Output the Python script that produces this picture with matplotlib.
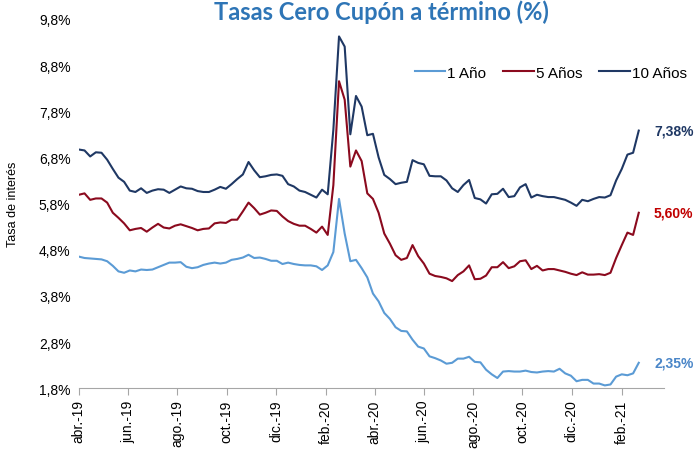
import matplotlib

matplotlib.use("Agg")
import matplotlib.dates as mdates
import matplotlib.pyplot as plt
import pandas as pd
from matplotlib.ticker import FuncFormatter

# weekly readings, abr.-19 .. feb.-21
dates = pd.date_range("2019-04-01", periods=100, freq="7D")

tasa_1 = [
    4.65, 4.62, 4.61, 4.60, 4.59, 4.55, 4.45, 4.33, 4.30, 4.35,
    4.33, 4.37, 4.36, 4.37, 4.42, 4.47, 4.52, 4.52, 4.53, 4.43,
    4.40, 4.42, 4.47, 4.50, 4.52, 4.50, 4.52, 4.58, 4.60, 4.63,
    4.69, 4.62, 4.63, 4.60, 4.56, 4.56, 4.49, 4.52, 4.49, 4.47,
    4.46, 4.46, 4.44, 4.36, 4.46, 4.75, 5.90, 5.15, 4.55, 4.58,
    4.40, 4.20, 3.85, 3.68, 3.43, 3.30, 3.12, 3.04, 3.03, 2.85,
    2.70, 2.66, 2.49, 2.45, 2.40, 2.33, 2.35, 2.44, 2.44, 2.48,
    2.37, 2.36, 2.20, 2.10, 2.02, 2.16, 2.17, 2.16, 2.16, 2.18,
    2.15, 2.14, 2.16, 2.17, 2.16, 2.22, 2.12, 2.07, 1.95, 1.98,
    1.98, 1.90, 1.90, 1.86, 1.88, 2.05, 2.10, 2.08, 2.12, 2.35,
]
tasa_5 = [
    5.99, 6.02, 5.88, 5.91, 5.91, 5.82, 5.60, 5.49, 5.37, 5.22,
    5.25, 5.27, 5.19, 5.28, 5.36, 5.28, 5.26, 5.32, 5.35, 5.31,
    5.27, 5.22, 5.25, 5.26, 5.37, 5.39, 5.38, 5.45, 5.45, 5.63,
    5.82, 5.70, 5.56, 5.60, 5.65, 5.64, 5.52, 5.42, 5.36, 5.32,
    5.32, 5.25, 5.17, 5.30, 5.12, 6.20, 8.45, 8.05, 6.60, 6.95,
    6.72, 6.02, 5.90, 5.60, 5.15, 4.93, 4.68, 4.58, 4.62, 4.90,
    4.66, 4.50, 4.28, 4.23, 4.21, 4.18, 4.12, 4.25, 4.33, 4.46,
    4.16, 4.17, 4.24, 4.42, 4.42, 4.53, 4.40, 4.44, 4.55, 4.57,
    4.38, 4.45, 4.35, 4.38, 4.38, 4.35, 4.32, 4.28, 4.25, 4.31,
    4.26, 4.26, 4.27, 4.25, 4.30, 4.62, 4.90, 5.17, 5.12, 5.60,
]
tasa_10 = [
    6.97, 6.95, 6.82, 6.91, 6.90, 6.75, 6.55, 6.36, 6.27, 6.08,
    6.05, 6.13, 6.03, 6.08, 6.11, 6.10, 6.03, 6.10, 6.17, 6.13,
    6.12, 6.07, 6.05, 6.05, 6.10, 6.16, 6.12, 6.22, 6.33, 6.43,
    6.70, 6.52, 6.37, 6.39, 6.42, 6.43, 6.40, 6.22, 6.17, 6.08,
    6.05, 5.99, 5.93, 6.10, 6.00, 7.40, 9.42, 9.20, 7.30, 8.13,
    7.90, 7.28, 7.31, 6.80, 6.42, 6.33, 6.22, 6.25, 6.27, 6.74,
    6.68, 6.65, 6.40, 6.39, 6.39, 6.30, 6.13, 6.05, 6.20, 6.31,
    5.92, 5.89, 5.80, 6.00, 6.01, 6.12, 5.94, 5.96, 6.15, 6.22,
    5.93, 5.99, 5.96, 5.94, 5.94, 5.91, 5.88, 5.82, 5.75, 5.88,
    5.85, 5.90, 5.94, 5.93, 5.98, 6.30, 6.55, 6.86, 6.90, 7.38,
]

series = [
    ("1 Año", tasa_1, "#5B9BD5", "#4A86C8"),
    ("5 Años", tasa_5, "#8B0A1E", "#C00000"),
    ("10 Años", tasa_10, "#1F3864", "#1F3864"),
]
y_ticks = [1.8, 2.8, 3.8, 4.8, 5.8, 6.8, 7.8, 8.8, 9.8]
meses = ["ene.", "feb.", "mar.", "abr.", "may.", "jun.",
         "jul.", "ago.", "sep.", "oct.", "nov.", "dic."]

plt.rcParams["font.family"] = ["Liberation Sans", "DejaVu Sans"]

fig = plt.figure(figsize=(6.98, 4.52), dpi=100)
ax = fig.add_axes([0.113, 0.139, 0.838, 0.817])

for name, vals, color, label_color in series:
    ax.plot(dates, vals, color=color, lw=1.5, label=name)
    ax.annotate(f"{vals[-1]:.2f}%".replace(".", ","), xy=(dates[-1], vals[-1]),
                xytext=(11, 0), textcoords="offset points", ha="left", va="center",
                fontsize=10, fontweight="bold", color=label_color, annotation_clip=False)

ax.set_xlim(pd.Timestamp("2019-04-01"), pd.Timestamp("2021-03-25"))
ax.set_ylim(1.8, 9.8)
ax.set_yticks(y_ticks)
ax.yaxis.set_major_formatter(FuncFormatter(lambda v, _: f"{v:.1f}%".replace(".", ",")))
ax.tick_params(axis="y", length=0, labelsize=10, pad=6)

ax.xaxis.set_major_locator(mdates.MonthLocator(bymonth=[2, 4, 6, 8, 10, 12]))
ax.xaxis.set_major_formatter(FuncFormatter(
    lambda v, _: f"{meses[mdates.num2date(v).month - 1]}-{mdates.num2date(v):%y}"))
ax.tick_params(axis="x", length=5, color="#A6A6A6", labelsize=10, rotation=90, pad=3)

for side in ("top", "right", "left"):
    ax.spines[side].set_visible(False)
ax.spines["bottom"].set_color("#A6A6A6")

ax.set_ylabel("Tasa de interés", fontsize=9, labelpad=14)
ax.legend(loc="center left", bbox_to_anchor=(0.574, 0.854), ncol=3, frameon=False,
          fontsize=11, handlelength=2.0, handletextpad=0.15, columnspacing=1.1,
          borderpad=0, borderaxespad=0)

fig.text(0.547, 0.972, "Tasas Cero Cupón a término (%)", ha="center", va="center",
         fontsize=17, fontweight="bold", color="#2E75B6", family="Lato")

fig.savefig("out.png", dpi=100)
plt.close(fig)
